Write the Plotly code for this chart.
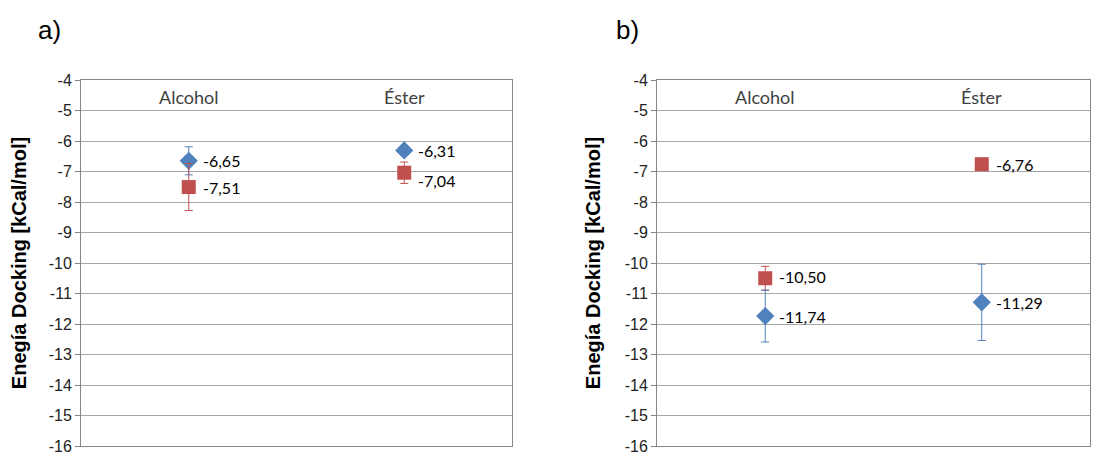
import plotly.graph_objects as go

categories = ["Alcohol", "Éster"]

# Panel a)
a_blue = [-6.65, -6.31]
a_blue_err = [0.46, 0.0]
a_red = [-7.51, -7.04]
a_red_err = [0.77, 0.35]

# Panel b)
b_blue = [-11.74, -11.29]
b_blue_err = [0.85, 1.25]
b_red = [-10.50, -6.76]
b_red_err = [0.39, 0.0]

y_ticks = list(range(-16, -3))
category_label_y = -4.5

BLUE = "#4F81BD"
RED = "#C0504D"
LABEL_FONT = dict(family="Lato, 'Open Sans', sans-serif", size=16, color="#000000")
CAT_FONT = dict(family="Lato, 'Open Sans', sans-serif", size=18, color="#404040")

fig = go.Figure()

def fmt(v):
    return f"{v:.2f}".replace(".", ",")

def add_series(xref, yref, vals, errs, color, symbol, size, dy_list):
    fig.add_trace(go.Scatter(
        x=categories, y=vals, mode="markers",
        marker=dict(color=color, symbol=symbol, size=size, line=dict(width=0)),
        error_y=dict(type="data", array=errs, visible=True, color=color, thickness=1, width=4),
        xaxis=xref, yaxis=yref, showlegend=False, cliponaxis=False,
    ))
    for c, v, dy in zip(categories, vals, dy_list):
        fig.add_annotation(x=c, y=v, xref=xref, yref=yref, text=fmt(v),
                           showarrow=False, xanchor="left", yanchor="middle",
                           xshift=12, yshift=dy, font=LABEL_FONT)

add_series("x", "y", a_blue, a_blue_err, BLUE, "diamond", 14, [0, 0])
add_series("x", "y", a_red, a_red_err, RED, "square", 14, [0, -8])
add_series("x2", "y2", b_red, b_red_err, RED, "square", 14, [2, 0])
add_series("x2", "y2", b_blue, b_blue_err, BLUE, "diamond", 14, [0, 0])

for xr, yr in (("x", "y"), ("x2", "y2")):
    for c in categories:
        fig.add_annotation(x=c, y=category_label_y, xref=xr, yref=yr, text=c,
                           showarrow=False, xanchor="center", yanchor="middle",
                           yshift=-2, font=CAT_FONT)

# page body has an 8px margin; figure coordinates are offset accordingly
OFF = 8
W, H = 1106 - OFF, 457 - OFF
ydom = [1 - (446 - OFF) / H, 1 - (80 - OFF) / H]

xaxis_common = dict(
    type="category", showticklabels=False, ticks="", automargin=False,
    showgrid=False, showline=True, linecolor="#868686", linewidth=1, mirror=True,
    range=[-0.5, 1.5], fixedrange=True, zeroline=False,
)
yaxis_common = dict(
    range=[-16, -4], tickvals=y_ticks, ticktext=[str(t) for t in y_ticks],
    automargin=False, ticklabeloverflow="allow",
    showgrid=True, gridcolor="#A6A6A6", gridwidth=1,
    showline=True, linecolor="#868686", linewidth=1, mirror=True,
    ticks="outside", ticklen=5, tickcolor="#868686",
    tickfont=dict(family="Liberation Sans, Arial, sans-serif", size=16, color="#222222"),
    zeroline=False,
    title=dict(text="Enegía Docking [kCal/mol]", standoff=18,
               font=dict(family="Liberation Sans, Arial, sans-serif", size=20,
                         color="#000000", weight="bold")),
)

fig.update_layout(
    width=W, height=H,
    margin=dict(l=0, r=0, t=0, b=0, autoexpand=False),
    paper_bgcolor="white", plot_bgcolor="white",
    xaxis=dict(domain=[(81 - OFF) / W, (512 - OFF) / W], anchor="y", **xaxis_common),
    yaxis=dict(domain=ydom, anchor="x", **yaxis_common),
    xaxis2=dict(domain=[(657 - OFF) / W, (1090 - OFF) / W], anchor="y2", **xaxis_common),
    yaxis2=dict(domain=ydom, anchor="x2", **yaxis_common),
)

fig.add_annotation(text="a)", xref="paper", yref="paper", x=(36 - OFF) / W, y=1 - (30 - OFF) / H,
                   showarrow=False, xanchor="left", yanchor="middle",
                   font=dict(family="Liberation Sans, Arial, sans-serif", size=26, color="#000000"))
fig.add_annotation(text="b)", xref="paper", yref="paper", x=(614 - OFF) / W, y=1 - (30 - OFF) / H,
                   showarrow=False, xanchor="left", yanchor="middle",
                   font=dict(family="Liberation Sans, Arial, sans-serif", size=26, color="#000000"))

fig.write_html("out.html")
